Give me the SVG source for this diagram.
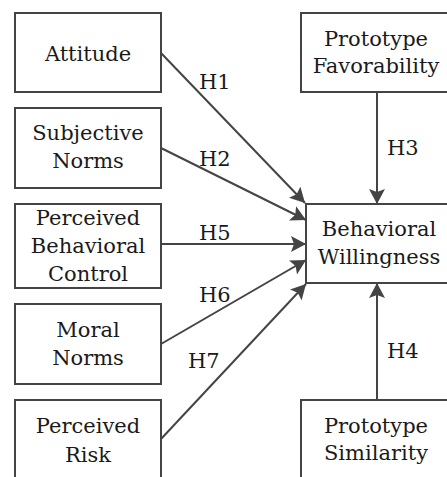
<svg xmlns="http://www.w3.org/2000/svg" width="447" height="477" viewBox="0 0 447 477">
<style>
.box{fill:#fff;stroke:#444;stroke-width:2}
.t{font-family:"DejaVu Serif","Liberation Serif",serif;font-size:21px;fill:#1a1a1a;text-anchor:middle}
.lbl{font-family:"DejaVu Serif","Liberation Serif",serif;font-size:21px;fill:#1a1a1a}
.c{stroke:#444;stroke-width:2;fill:none;marker-end:url(#ah)}
</style>
<defs>
<marker id="ah" markerUnits="userSpaceOnUse" markerWidth="16" markerHeight="16" viewBox="0 0 16 16" refX="15" refY="8" orient="auto">
<path d="M0,0 L15,8 L0,16 L3,8 z" fill="#444"/>
</marker>
</defs>
<rect width="447" height="477" fill="#fff"/>
<g id="connectors">
<line class="c" x1="161" y1="53" x2="305" y2="203"/>
<line class="c" x1="161" y1="148" x2="306" y2="220"/>
<line class="c" x1="161" y1="244" x2="306" y2="244"/>
<line class="c" x1="161" y1="344" x2="306" y2="260"/>
<line class="c" x1="161" y1="439" x2="306" y2="284"/>
<line class="c" x1="377" y1="92" x2="377" y2="204"/>
<line class="c" x1="377" y1="400" x2="377" y2="283"/>
<text class="lbl" x="199" y="89">H1</text>
<text class="lbl" x="199" y="166">H2</text>
<text class="lbl" x="199" y="240">H5</text>
<text class="lbl" x="199" y="302">H6</text>
<text class="lbl" x="188" y="368">H7</text>
<text class="lbl" x="387" y="155">H3</text>
<text class="lbl" x="387" y="358">H4</text>
</g>
<g id="attitude">
<rect class="box" x="15" y="13" width="146" height="79"/>
<text class="t" x="88" y="61">Attitude</text>
</g>
<g id="subjective-norms">
<rect class="box" x="15" y="108" width="146" height="80"/>
<text class="t" x="88" y="140">Subjective</text>
<text class="t" x="88" y="168">Norms</text>
</g>
<g id="pbc">
<rect class="box" x="15" y="204" width="146" height="84"/>
<text class="t" x="88" y="225">Perceived</text>
<text class="t" x="88" y="253">Behavioral</text>
<text class="t" x="88" y="281">Control</text>
</g>
<g id="moral-norms">
<rect class="box" x="15" y="304" width="146" height="80"/>
<text class="t" x="88" y="337">Moral</text>
<text class="t" x="88" y="365">Norms</text>
</g>
<g id="perceived-risk">
<rect class="box" x="15" y="400" width="146" height="82"/>
<text class="t" x="88" y="433">Perceived</text>
<text class="t" x="88" y="462">Risk</text>
</g>
<g id="prototype-favorability">
<rect class="box" x="301" y="13" width="152" height="79"/>
<text class="t" x="376" y="46">Prototype</text>
<text class="t" x="376" y="73">Favorability</text>
</g>
<g id="behavioral-willingness">
<rect class="box" x="306" y="204" width="148" height="79"/>
<text class="t" x="379" y="236">Behavioral</text>
<text class="t" x="379" y="264">Willingness</text>
</g>
<g id="prototype-similarity">
<rect class="box" x="301" y="400" width="152" height="82"/>
<text class="t" x="376" y="433">Prototype</text>
<text class="t" x="376" y="460">Similarity</text>
</g>
</svg>
